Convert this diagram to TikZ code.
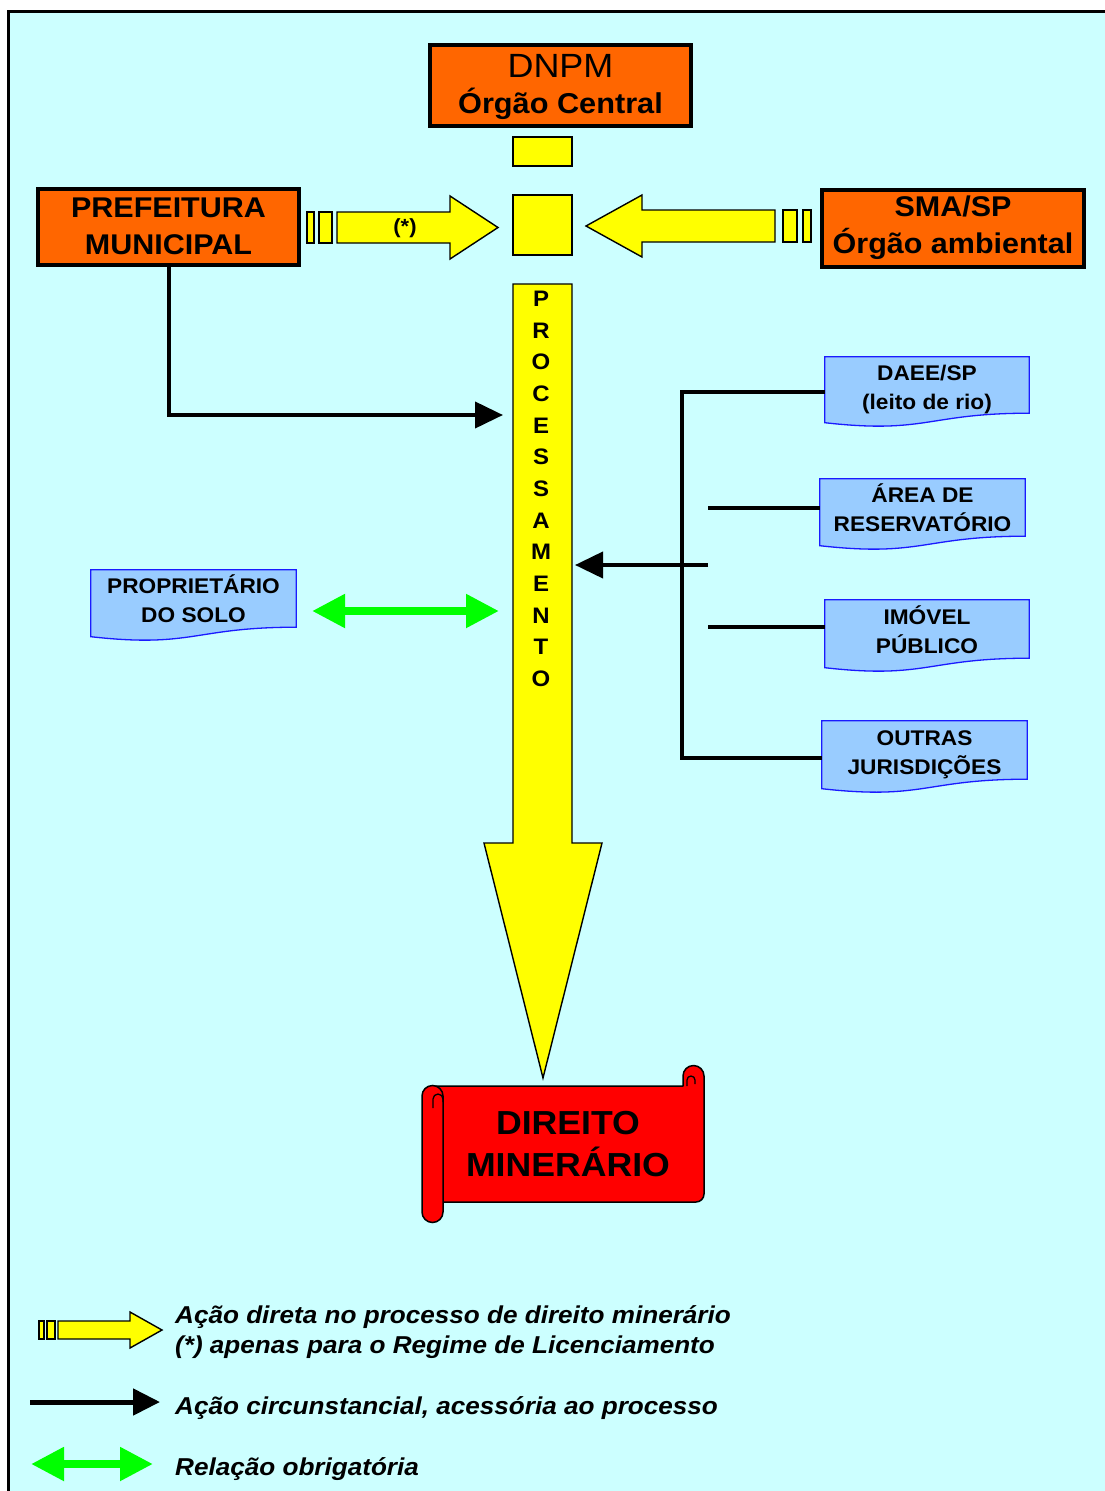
\documentclass[tikz,border=0pt]{standalone}
\usepackage{fontspec}
\setmainfont{Liberation Sans}[FakeStretch=1.07]
\usetikzlibrary{calc,arrows.meta}
\definecolor{bgc}{HTML}{CCFFFF}
\definecolor{org}{HTML}{FF6600}
\definecolor{yel}{HTML}{FFFF00}
\definecolor{docb}{HTML}{99CCFF}
\definecolor{docl}{HTML}{1A1AFF}
\definecolor{grn}{HTML}{00FF00}
\definecolor{rd}{HTML}{FF0000}
\newcommand{\fsz}[2]{\fontsize{#1}{#2}\selectfont}
\newcommand{\docwave}[1]{%
  \fill[docb] (#1.south east) .. controls ($(#1.south east)!0.5!(#1.south west)$) and ($($(#1.south east)!0.5!(#1.south west)$)+(0,21)$) .. ($(#1.south west)+(0,9.5)$) -- (#1.south west) -- cycle;
  \draw[docline] (#1.north west) -- (#1.north east) -- (#1.south east) .. controls ($(#1.south east)!0.5!(#1.south west)$) and ($($(#1.south east)!0.5!(#1.south west)$)+(0,21)$) .. ($(#1.south west)+(0,9.5)$) -- cycle;}
\begin{document}
\begin{tikzpicture}[x=1pt,y=-1pt,
  orgbox/.style={draw=black, line width=4pt, fill=org, inner sep=0pt, align=center},
  yelshape/.style={draw=black, line width=1.4pt, fill=yel, line join=miter},
  docbox/.style={fill=docb, inner sep=0pt},
  doctext/.style={inner sep=0pt, align=center, font=\bfseries\fsz{21.2}{29}},
  docline/.style={draw=docl, line width=1.3pt},
  conn/.style={draw=black, line width=4pt},
  blkhead/.style={-{Triangle[length=28pt,width=26pt]}},
  grnarrow/.style={draw=grn, line width=8pt, {Triangle[length=33pt,width=32pt]}-{Triangle[length=33pt,width=32pt]}},
  legtext/.style={anchor=west, inner sep=0pt, align=left, font=\bfseries\itshape\fsz{24.4}{30}}
]
\useasboundingbox (0,0) rectangle (1105,1491);
\fill[white] (0,0) rectangle (1105,1491);
\draw[fill=bgc, line width=3pt] (8,11) rectangle (1125,1510);

% top boxes
\node[orgbox, minimum width=261pt, minimum height=81pt] (dnpm) at (560.5,85.5) {};
\node[anchor=base, inner sep=0pt, font=\fsz{33.6}{36}] (dnpmA) at (560.5,77) {DNPM};
\node[anchor=base, inner sep=0pt, font=\bfseries\fsz{28.7}{36}] (dnpmB) at (560.5,113) {Órgão Central};
\node[orgbox, minimum width=261pt, minimum height=76pt, font=\bfseries\fsz{28.5}{37}] (pref) at (168.5,226.5)
  {PREFEITURA\\MUNICIPAL};
\node[orgbox, minimum width=262pt, minimum height=77pt, font=\bfseries\fsz{28.5}{37}] (sma) at (953,228)
  {SMA/SP\\Órgão ambiental};

% small yellow blocks
\draw[yelshape] (513,137) rectangle (572,166);
\draw[yelshape] (513,195) rectangle (572,255);

% left striped arrow
\draw[yelshape] (307,212) rectangle (314,243);
\draw[yelshape] (319,212) rectangle (332,243);
\draw[yelshape] (337,212) -- (450,212) -- (450,196) -- (498,227.5) -- (450,259) -- (450,243) -- (337,243) -- cycle;
\node[font=\bfseries\fsz{20.5}{24}] (star) at (405,228) {(*)};

% right striped arrow
\draw[yelshape] (775,210) -- (642,210) -- (642,195) -- (586,226) -- (642,257) -- (642,242) -- (775,242) -- cycle;
\draw[yelshape] (783,210) rectangle (797,242);
\draw[yelshape] (803,210) rectangle (811,242);

% big vertical arrow
\draw[yelshape] (513,284) -- (572,284) -- (572,843) -- (602,843) -- (543,1078) -- (484,843) -- (513,843) -- cycle;
\node[inner sep=0pt, align=center, font=\bfseries\fsz{22.4}{31.67}] (proc) at (541,489)
  {P\\R\\O\\C\\E\\S\\S\\A\\M\\E\\N\\T\\O};

% documents
\node[docbox, minimum width=204pt, minimum height=56pt] (daee) at (927,385) {};
\node[docbox, minimum width=205pt, minimum height=57pt] (area) at (922.5,507.5) {};
\node[docbox, minimum width=204pt, minimum height=58pt] (imovel) at (927,629) {};
\node[docbox, minimum width=205pt, minimum height=58pt] (outras) at (924.5,750) {};
\node[docbox, minimum width=205pt, minimum height=57pt] (prop) at (193.5,598.5) {};
\docwave{daee}
\docwave{area}
\docwave{imovel}
\docwave{outras}
\docwave{prop}
\node[doctext] (daeeT) at ($(daee)+(0,4.5)$) {DAEE/SP\\(leito de rio)};
\node[doctext] (areaT) at ($(area)+(0,0)$) {ÁREA DE\\RESERVATÓRIO};
\node[doctext] (imovelT) at ($(imovel)+(0,0.5)$) {IMÓVEL\\PÚBLICO};
\node[doctext] (outrasT) at ($(outras)+(0,4.5)$) {OUTRAS\\JURISDIÇÕES};
\node[doctext] (propT) at ($(prop)+(0,0)$) {PROPRIETÁRIO\\DO SOLO};

% connectors
\coordinate (tipA) at (503,415);
\draw[conn, blkhead] (pref.south) |- (tipA);

\coordinate (bus) at (682,0);
\coordinate (stub) at (708,0);
\coordinate (dA) at ($(daee.west)+(0,7)$);
\coordinate (dO) at ($(outras.west)+(0,8)$);
\coordinate (dI) at ($(imovel.west)+(0,-2)$);
\draw[conn] (dA) -- (dA -| bus) -- (dO -| bus) -- (dO);
\draw[conn] (area.west) -- (area.west -| stub);
\draw[conn] (dI) -- (dI -| stub);
\coordinate (stubA) at (708,565);
\coordinate (tipB) at (575,565);
\draw[conn, blkhead] (stubA) -- (tipB);

\coordinate (gL) at (312,611);
\coordinate (gR) at (499,611);
\draw[grnarrow] (gL) -- (gR);

% scroll
\draw[fill=rd, line width=1.5pt, line join=round] (433,1086) -- (683,1086) -- (683,1076) arc (180:360:10.5) -- (704,1194) arc (0:90:8) -- (433,1202) -- cycle;
\draw[line width=1.3pt] (687,1086) -- (687,1080) arc (180:360:4) -- (695,1084);
\draw[fill=rd, line width=1.5pt] (422,1096) -- (422,1212) arc (180:0:10.5) -- (443,1096) arc (0:-180:10.5) -- cycle;
\draw[line width=1.3pt] (433,1108) -- (433,1099) arc (180:360:5) -- (443,1102);
\node[inner sep=0pt, align=center, font=\bfseries\fsz{33.3}{42}] (dir) at (568,1144) {DIREITO\\MINERÁRIO};

% legend
\draw[yelshape] (39,1321) rectangle (44,1339);
\draw[yelshape] (47,1321) rectangle (55,1339);
\draw[yelshape] (58,1321) -- (130,1321) -- (130,1312) -- (162,1330) -- (130,1348) -- (130,1339) -- (58,1339) -- cycle;
\node[legtext] (l1) at (175,1332) {Ação direta no processo de direito minerário\\(*) apenas para o Regime de Licenciamento};
\coordinate (k1) at (30,1402);
\coordinate (k2) at (160,1402);
\draw[draw=black, line width=5pt, -{Triangle[length=27pt,width=26pt]}] (k1) -- (k2);
\node[legtext] (l2) at (175,1408) {Ação circunstancial, acessória ao processo};
\coordinate (g1) at (31,1464);
\coordinate (g2) at (153,1464);
\draw[grnarrow] (g1) -- (g2);
\node[legtext] (l3) at (175,1469) {Relação obrigatória};
\end{tikzpicture}
\end{document}
